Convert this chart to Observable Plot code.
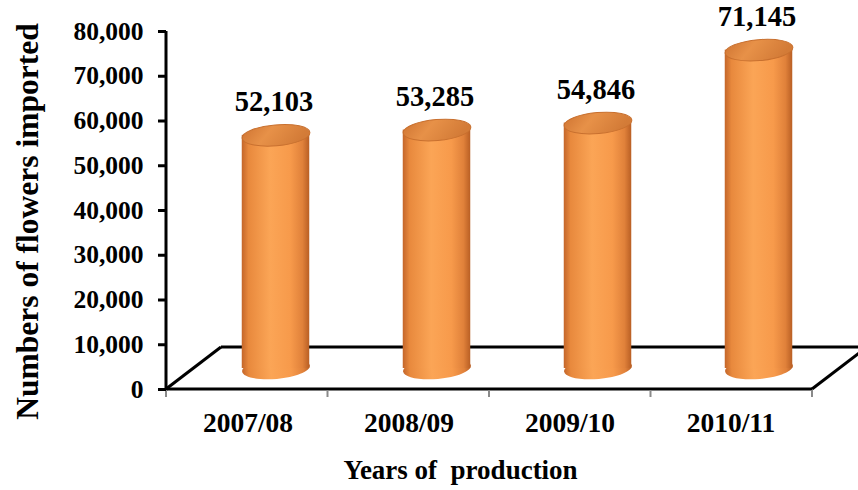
<!DOCTYPE html>
<html>
<head>
<meta charset="utf-8">
<script src="https://cdn.jsdelivr.net/npm/d3@7"></script>
<script src="https://cdn.jsdelivr.net/npm/@observablehq/plot@0.6"></script>
<style>
  body { margin: 0; background: #fff; }
</style>
</head>
<body>
<div id="chart"></div>
<script>
// Flower imports per production year
const years = ["2007/08", "2008/09", "2009/10", "2010/11"];
const imports = [52103, 53285, 54846, 71145];
const yTicks = [0, 10000, 20000, 30000, 40000, 50000, 60000, 70000, 80000];
const yTitle = "Numbers of flowers imported";
const xTitle = "Years of\u00a0 production";

const data = years.map((year, i) => ({year, value: imports[i]}));
const fmt = d3.format(",");

// pseudo-3D geometry (pixels)
const DEPTH_X = 55, DEPTH_Y = -42;   // floor depth
const CYL_DX = 28, CYL_DY = -21;     // cylinders sit mid-depth on the floor
const RX = 34, RY = 10.5;            // cylinder end-cap radii
const TILT = -5;

// ellipse symbol for the cylinder caps
const ellipse = {
  draw(ctx) {
    const k = 0.5523;
    ctx.moveTo(RX, 0);
    ctx.bezierCurveTo(RX, k * RY, k * RX, RY, 0, RY);
    ctx.bezierCurveTo(-k * RX, RY, -RX, k * RY, -RX, 0);
    ctx.bezierCurveTo(-RX, -k * RY, -k * RX, -RY, 0, -RY);
    ctx.bezierCurveTo(k * RX, -RY, RX, -k * RY, RX, 0);
    ctx.closePath();
  }
};

// floor parallelogram, y-axis line and category edge ticks
function floor(index, scales, values, dims) {
  const {y} = scales;
  const x0 = dims.marginLeft, x1 = dims.width - dims.marginRight;
  const y0 = y(0), yTop = y(yTicks[yTicks.length - 1]);
  const g = d3.create("svg:g").attr("fill", "none").attr("stroke", "#000").attr("stroke-width", 3);
  const seg = (ax, ay, bx, by) => g.append("line").attr("x1", ax).attr("y1", ay).attr("x2", bx).attr("y2", by);
  seg(x0 + DEPTH_X, y0 + DEPTH_Y, x1 + DEPTH_X, y0 + DEPTH_Y);
  seg(x0, y0, x0 + DEPTH_X, y0 + DEPTH_Y);
  seg(x1, y0, x1 + DEPTH_X, y0 + DEPTH_Y);
  seg(x0, y0, x1, y0);
  seg(x0, yTop, x0, y0 + 1.5);
  const step = (x1 - x0) / years.length;
  for (let i = 0; i <= years.length; i++) {
    seg(x0 + i * step, y0 + 1, x0 + i * step, y0 + 8).attr("stroke", "#8a8a8a").attr("stroke-width", 2);
  }
  return g.node();
}

const chart = Plot.plot({
  width: 858,
  height: 490,
  marginLeft: 166,
  marginRight: 46,
  marginTop: 31,
  marginBottom: 101,
  x: {domain: years, padding: 0, axis: null},
  y: {domain: [0, 80000], axis: null},
  style: {
    fontFamily: "'Liberation Serif', 'Times New Roman', serif",
    fontWeight: "bold",
    fontSize: "25px",
    color: "#000",
    background: "#fff"
  },
  marks: [
    floor,
    Plot.axisY(yTicks, {tickSize: 8, tickPadding: 15, tickFormat: fmt, strokeWidth: 3, label: null, fontSize: 25.5}),
    Plot.axisX({tickSize: 0, tickPadding: 23, label: null, fontSize: 27.5}),
    // bottom caps
    Plot.dot(data, {x: "year", y: () => 0, symbol: ellipse, rotate: TILT, fill: "url(#cylBody)", stroke: "none", dx: CYL_DX, dy: CYL_DY}),
    // cylinder bodies
    Plot.barY(data, {x: "year", y: "value", fill: "url(#cylBody)", insetLeft: 46.75, insetRight: 46.75, dx: CYL_DX, dy: CYL_DY}),
    // top caps
    Plot.dot(data, {x: "year", y: "value", symbol: ellipse, rotate: TILT, fill: "url(#cylTop)", stroke: "#c8702f", strokeWidth: 1, dx: CYL_DX, dy: CYL_DY}),
    // value labels
    Plot.text(data, {x: "year", y: "value", text: d => fmt(d.value), dx: CYL_DX - 2, dy: CYL_DY - 33, fontSize: 28.5}),
    // axis titles
    Plot.text([yTitle], {frameAnchor: "left", textAnchor: "middle", lineAnchor: "middle", rotate: -90, dx: -139, dy: 11, fontSize: 31.5}),
    Plot.text([xTitle], {frameAnchor: "bottom", textAnchor: "middle", lineAnchor: "middle", dx: -29, dy: 81, fontSize: 27})
  ]
});

d3.select(chart).insert("defs", ":first-child").html(`
  <linearGradient id="cylBody" x1="0" x2="1" y1="0" y2="0">
    <stop offset="0" stop-color="#c4662a"/>
    <stop offset="0.1" stop-color="#e8893d"/>
    <stop offset="0.42" stop-color="#fba556"/>
    <stop offset="0.72" stop-color="#f79a4b"/>
    <stop offset="0.9" stop-color="#e0813a"/>
    <stop offset="1" stop-color="#b95f24"/>
  </linearGradient>
  <linearGradient id="cylTop" x1="0" x2="1" y1="0" y2="0.3">
    <stop offset="0" stop-color="#cf7432"/>
    <stop offset="0.45" stop-color="#e79148"/>
    <stop offset="1" stop-color="#d37b37"/>
  </linearGradient>
`);

document.getElementById("chart").appendChild(chart);
</script>
</body>
</html>
